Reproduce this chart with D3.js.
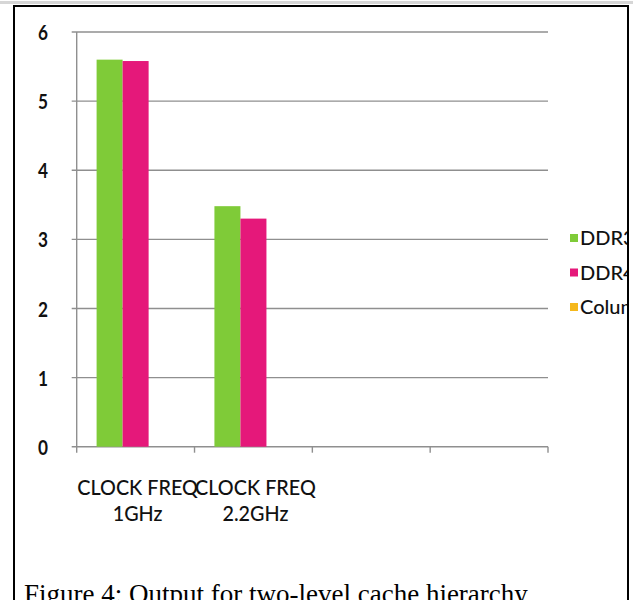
<!DOCTYPE html>
<html>
<head>
<meta charset="utf-8">
<script src="https://cdn.jsdelivr.net/npm/d3@7"></script>
<style>
  html, body { margin: 0; padding: 0; background: #fff; }
  svg { display: block; }
</style>
</head>
<body>
<svg id="chart" width="633" height="600"></svg>
<script>
// Category labels (two lines each); the last two slots are empty columns
const categories = [["CLOCK FREQ", "1GHz"], ["CLOCK FREQ", "2.2GHz"], [], []];
const seriesNames = ["DDR3", "DDR4", "Column1"];
const ddr3 = [5.6, 3.48, null, null];
const ddr4 = [5.58, 3.3, null, null];
const column1 = [null, null, null, null];
const yTicks = [0, 1, 2, 3, 4, 5, 6];
const seriesColors = ["#7fcb38", "#e5187a", "#f5b81c"];

const seriesValues = [ddr3, ddr4, column1];

const svg = d3.select("#chart");

// frame around the figure
svg.append("line")
  .attr("x1", 0).attr("x2", 633).attr("y1", 2.5).attr("y2", 2.5)
  .attr("stroke", "#d6d6d6").attr("stroke-width", 3);
svg.append("rect")
  .attr("x", 14).attr("y", 6).attr("width", 614).attr("height", 620)
  .attr("fill", "#fff").attr("stroke", "#000").attr("stroke-width", 2);

const plot = { left: 76.7, right: 548, top: 32, bottom: 446.7 };

const y = d3.scaleLinear().domain([0, 6]).range([plot.bottom, plot.top]);
const idx = categories.map((d, i) => i);
const x0 = d3.scaleBand().domain(idx).range([plot.left, plot.right]).padding(0);
const x1 = d3.scaleBand().domain(seriesNames)
  .range([0, x0.bandwidth()]).paddingOuter(0.765).paddingInner(0);

const grid = "#8f8f8f";
const uiFont = "Lato, 'Open Sans', sans-serif";

// horizontal gridlines with small outer ticks
svg.append("g").selectAll("line").data(yTicks).join("line")
  .attr("x1", plot.left - 5).attr("x2", plot.right)
  .attr("y1", d => y(d)).attr("y2", d => y(d))
  .attr("stroke", grid).attr("stroke-width", 1.4);

// vertical axis line
svg.append("line")
  .attr("x1", plot.left).attr("x2", plot.left)
  .attr("y1", plot.top).attr("y2", plot.bottom + 6)
  .attr("stroke", grid).attr("stroke-width", 1.4);

// category boundary ticks below the baseline
const bounds = idx.map(i => x0(i)).concat([plot.right]);
svg.append("g").selectAll("line").data(bounds.slice(1)).join("line")
  .attr("x1", d => d).attr("x2", d => d)
  .attr("y1", plot.bottom).attr("y2", plot.bottom + 6)
  .attr("stroke", grid).attr("stroke-width", 1.4);

// y tick labels
const yAxis = d3.axisLeft(y).tickValues(yTicks).tickSize(0).tickPadding(0)
  .tickFormat(d3.format("d"));
const ya = svg.append("g").attr("transform", `translate(48,0)`).call(yAxis);
ya.select(".domain").remove();
ya.selectAll("text")
  .attr("font-family", uiFont)
  .attr("font-size", 21).attr("font-weight", 700).attr("fill", "#111")
  .attr("x", 0).attr("dy", "0.36em")
  .attr("transform", "scale(0.82,1)");

// bars
const barGroups = svg.append("g").selectAll("g").data(seriesNames).join("g")
  .attr("fill", (d, i) => seriesColors[i]);
barGroups.selectAll("rect")
  .data((s, si) => seriesValues[si].map((v, ci) => ({ s, v, ci })).filter(d => d.v != null))
  .join("rect")
  .attr("x", d => x0(d.ci) + x1(d.s))
  .attr("width", x1.bandwidth())
  .attr("y", d => y(d.v))
  .attr("height", d => y(0) - y(d.v));

// category labels
const xl = svg.append("g").selectAll("text").data(idx).join("text")
  .attr("transform", i => `translate(${x0(i) + x0.bandwidth() / 2 + 2},0) scale(0.9,1)`)
  .attr("text-anchor", "middle")
  .attr("font-family", uiFont)
  .attr("font-size", 22).attr("font-weight", 500).attr("fill", "#111");
xl.selectAll("tspan").data(i => categories[i]).join("tspan")
  .attr("x", 0)
  .attr("y", (d, k) => 495 + k * 26)
  .text(d => d);

// legend, clipped by the frame's right edge
svg.append("clipPath").attr("id", "frameClip")
  .append("rect").attr("x", 0).attr("y", 0).attr("width", 627).attr("height", 600);
const lg = svg.append("g").attr("clip-path", "url(#frameClip)")
  .selectAll("g").data(seriesNames).join("g")
  .attr("transform", (d, i) => `translate(570,${238 + i * 34.5})`);
lg.append("rect").attr("x", 0).attr("y", -4).attr("width", 8).attr("height", 8)
  .attr("fill", (d, i) => seriesColors[i]);
lg.append("text").attr("x", 10).attr("dy", "0.36em")
  .attr("font-family", uiFont)
  .attr("font-size", 20).attr("font-weight", 500).attr("fill", "#111")
  .text(d => d);

// redraw the right frame edge over the clipped legend
svg.append("line").attr("x1", 628).attr("x2", 628).attr("y1", 5).attr("y2", 600)
  .attr("stroke", "#000").attr("stroke-width", 2);

// caption
svg.append("text")
  .attr("x", 24).attr("y", 603)
  .attr("font-family", "'Liberation Serif', 'Times New Roman', serif")
  .attr("font-size", 27).attr("fill", "#000")
  .text("Figure 4: Output for two-level cache hierarchy");
</script>
</body>
</html>
